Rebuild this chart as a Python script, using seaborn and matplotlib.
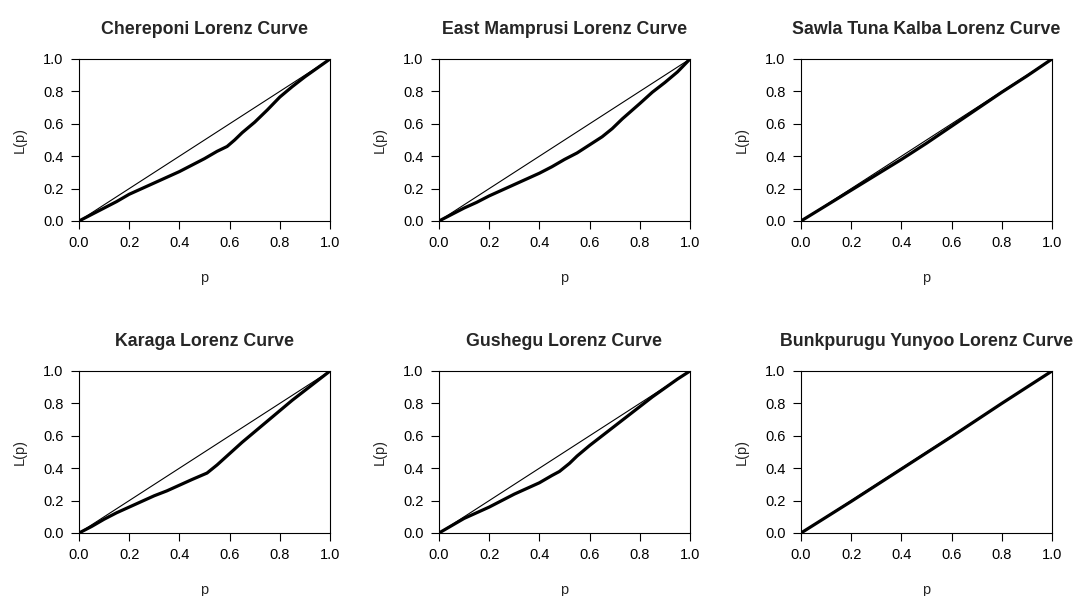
import numpy as np
import pandas as pd
import matplotlib
matplotlib.use("Agg")
import matplotlib.pyplot as plt
import seaborn as sns

# --- Lorenz curve readings (p = cumulative share of population, L = share of income) ---
districts = ["Chereponi", "East Mamprusi", "Sawla Tuna Kalba",
             "Karaga", "Gushegu", "Bunkpurugu Yunyoo"]

chereponi_p = [0, 0.05, 0.1, 0.15, 0.2, 0.25, 0.3, 0.35, 0.4, 0.45, 0.5, 0.55,
               0.59, 0.62, 0.65, 0.7, 0.75, 0.8, 0.85, 0.9, 0.95, 1]
chereponi_L = [0, 0.04, 0.08, 0.12, 0.165, 0.2, 0.235, 0.27, 0.305, 0.345, 0.385, 0.43,
               0.46, 0.5, 0.545, 0.61, 0.685, 0.765, 0.83, 0.89, 0.945, 1]

east_mamprusi_p = [0, 0.05, 0.1, 0.15, 0.2, 0.25, 0.3, 0.35, 0.4, 0.45, 0.5, 0.55,
                   0.6, 0.65, 0.69, 0.73, 0.8, 0.85, 0.9, 0.95, 1]
east_mamprusi_L = [0, 0.04, 0.08, 0.115, 0.155, 0.19, 0.225, 0.26, 0.295, 0.335, 0.38, 0.42,
                   0.47, 0.52, 0.57, 0.63, 0.725, 0.795, 0.855, 0.92, 1]

sawla_p = [0, 0.1, 0.2, 0.3, 0.4, 0.45, 0.5, 0.6, 0.7, 0.8, 0.9, 1]
sawla_L = [0, 0.095, 0.19, 0.285, 0.38, 0.43, 0.48, 0.585, 0.69, 0.795, 0.895, 1]

karaga_p = [0, 0.05, 0.1, 0.15, 0.2, 0.25, 0.3, 0.35, 0.4, 0.45, 0.51, 0.55,
            0.6, 0.65, 0.7, 0.75, 0.8, 0.85, 0.9, 0.95, 1]
karaga_L = [0, 0.04, 0.085, 0.125, 0.16, 0.195, 0.23, 0.26, 0.295, 0.33, 0.37, 0.42,
            0.49, 0.56, 0.625, 0.69, 0.755, 0.82, 0.88, 0.94, 1]

gushegu_p = [0, 0.05, 0.1, 0.15, 0.2, 0.25, 0.3, 0.35, 0.4, 0.45, 0.48, 0.52,
             0.55, 0.6, 0.65, 0.7, 0.75, 0.8, 0.85, 0.9, 0.95, 1]
gushegu_L = [0, 0.045, 0.09, 0.125, 0.16, 0.2, 0.24, 0.275, 0.31, 0.355, 0.38, 0.43,
             0.475, 0.54, 0.6, 0.66, 0.72, 0.78, 0.84, 0.895, 0.95, 1]

bunkpurugu_p = [0, 0.2, 0.4, 0.6, 0.8, 1]
bunkpurugu_L = [0, 0.195, 0.395, 0.595, 0.8, 1]

equality = [0, 1]
ticks = [0, 0.2, 0.4, 0.6, 0.8, 1.0]
tick_labels = ["0.0", "0.2", "0.4", "0.6", "0.8", "1.0"]

curves = [(chereponi_p, chereponi_L), (east_mamprusi_p, east_mamprusi_L),
          (sawla_p, sawla_L), (karaga_p, karaga_L),
          (gushegu_p, gushegu_L), (bunkpurugu_p, bunkpurugu_L)]

sns.set_style("ticks")
plt.rcParams['font.family'] = ['Liberation Sans', 'DejaVu Sans']

W, H = 1076, 596
fig = plt.figure(figsize=(W / 100, H / 100), dpi=100)

# panel boxes in pixels (left, top, width, height)
lefts = [79, 439, 801]
tops = [59, 371]
pw, ph = 251, 162

for i, (name, (p, L)) in enumerate(zip(districts, curves)):
    r, c = divmod(i, 3)
    ax = fig.add_axes([lefts[c] / W, 1 - (tops[r] + ph) / H, pw / W, ph / H])
    df = pd.DataFrame({"p": p, "L": L})
    sns.lineplot(x=equality, y=equality, ax=ax, color="black", linewidth=0.8)
    sns.lineplot(data=df, x="p", y="L", ax=ax, color="black", linewidth=2.3,
                 sort=False, estimator=None)
    ax.set_xlim(0, 1)
    ax.set_ylim(0, 1)
    ax.set_xticks(ticks)
    ax.set_xticklabels(tick_labels)
    ax.set_yticks(ticks)
    ax.set_yticklabels(tick_labels)
    ax.tick_params(direction="out", length=6, width=0.8, pad=5,
                   labelsize=10.5, colors="black")
    for s in ax.spines.values():
        s.set_visible(True)
        s.set_linewidth(0.8)
        s.set_color("black")
    ax.set_xlabel("p", fontsize=10.5)
    ax.set_ylabel("L(p)", fontsize=10.5)
    ax.xaxis.set_label_coords(0.5, -0.31)
    ax.yaxis.set_label_coords(-0.21, 0.5)
    ax.text(0.5, 1 + 30 / ph, f"{name} Lorenz Curve", transform=ax.transAxes,
            ha="center", va="center", fontsize=12.8, fontweight="bold")

fig.savefig("out.png", dpi=100)
